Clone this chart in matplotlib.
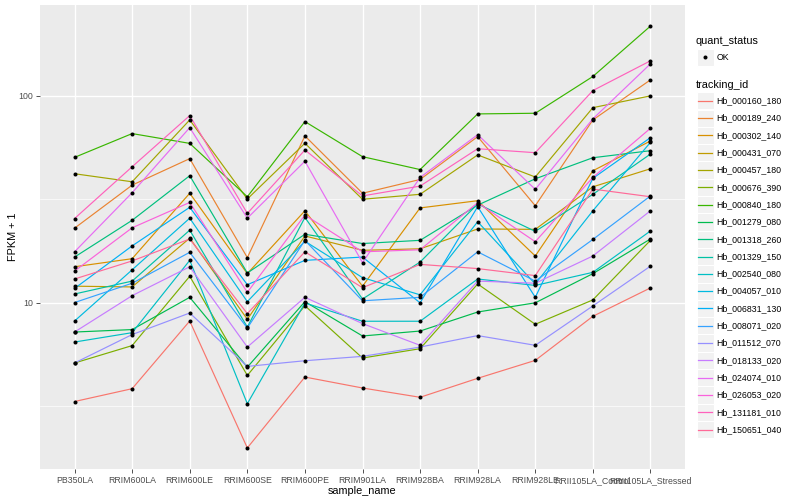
import matplotlib
matplotlib.use("Agg")
import matplotlib.pyplot as plt
import numpy as np
from matplotlib.patches import Rectangle

plt.rcParams["font.family"] = ["Liberation Sans", "DejaVu Sans"]

samples = ["PB350LA", "RRIM600LA", "RRIM600LE", "RRIM600SE", "RRIM600PE",
           "RRIM901LA", "RRIM928BA", "RRIM928LA", "RRIM928LE",
           "RRII105LA_Control", "RRII105LA_Stressed"]

tracking_ids = ["Hb_000160_180", "Hb_000189_240", "Hb_000302_140", "Hb_000431_070",
                "Hb_000457_180", "Hb_000676_390", "Hb_000840_180", "Hb_001279_080",
                "Hb_001318_260", "Hb_001329_150", "Hb_002540_080", "Hb_004057_010",
                "Hb_006831_130", "Hb_008071_020", "Hb_011512_070", "Hb_018133_020",
                "Hb_024074_010", "Hb_026053_020", "Hb_131181_010", "Hb_150651_040"]

# FPKM + 1, one list per gene, in sample order
hb_000160_180 = [3.32, 3.83, 8.14, 1.98, 4.36, 3.86, 3.48, 4.30, 5.25, 8.58, 11.77]
hb_000189_240 = [22.9, 37.0, 49.7, 16.5, 64.0, 33.8, 39.4, 63.5, 29.4, 76.5, 119.5]
hb_000302_140 = [14.9, 16.3, 33.8, 13.8, 27.8, 12.0, 28.7, 31.1, 16.8, 43.4, 60.5]
hb_000431_070 = [12.0, 11.9, 20.5, 8.30, 21.0, 17.9, 18.2, 22.7, 22.6, 36.3, 44.4]
hb_000457_180 = [42.0, 38.4, 76.5, 31.7, 59.0, 31.6, 33.4, 51.8, 40.5, 87.7, 100.0]
hb_000676_390 = [5.10, 6.19, 13.4, 4.44, 9.65, 5.39, 5.98, 12.3, 7.85, 10.3, 20.0]
hb_000840_180 = [50.4, 65.7, 58.9, 32.5, 75.1, 50.8, 44.0, 81.8, 82.4, 124.1, 217.6]
hb_001279_080 = [7.20, 7.40, 10.6, 4.87, 10.1, 6.89, 7.28, 9.00, 9.97, 13.8, 20.3]
hb_001318_260 = [16.6, 25.0, 41.1, 13.9, 21.4, 19.3, 20.0, 29.6, 39.7, 50.2, 54.3]
hb_001329_150 = [11.0, 12.7, 22.4, 7.61, 25.8, 10.4, 15.7, 30.0, 22.1, 33.4, 52.3]
hb_002540_080 = [6.44, 7.15, 16.0, 3.24, 9.95, 8.12, 8.12, 13.0, 12.1, 14.0, 22.2]
hb_004057_010 = [8.14, 14.4, 25.6, 10.1, 19.8, 13.2, 10.9, 24.6, 12.3, 27.8, 59.6]
hb_006831_130 = [11.7, 18.8, 28.9, 12.2, 16.0, 16.6, 9.97, 29.1, 10.6, 39.9, 62.8]
hb_008071_020 = [10.0, 12.4, 17.5, 7.53, 20.0, 10.2, 10.6, 17.6, 12.7, 20.2, 32.8]
hb_011512_070 = [5.10, 7.00, 8.90, 4.91, 5.23, 5.49, 6.09, 6.92, 6.21, 9.63, 15.0]
hb_018133_020 = [7.20, 10.8, 14.9, 6.09, 10.6, 7.91, 6.21, 12.7, 12.4, 16.8, 27.8]
hb_024074_010 = [17.6, 34.0, 70.2, 25.6, 48.3, 15.6, 40.3, 64.9, 35.3, 77.4, 142.9]
hb_026053_020 = [14.2, 23.0, 30.5, 11.2, 26.5, 17.6, 18.0, 30.4, 19.7, 40.3, 69.7]
hb_131181_010 = [25.5, 45.4, 80.3, 27.0, 54.7, 32.8, 36.6, 55.5, 53.1, 106.1, 147.8]
hb_150651_040 = [13.0, 15.9, 20.3, 8.84, 17.6, 11.8, 15.3, 14.6, 13.5, 35.4, 32.5]

series = [hb_000160_180, hb_000189_240, hb_000302_140, hb_000431_070, hb_000457_180,
          hb_000676_390, hb_000840_180, hb_001279_080, hb_001318_260, hb_001329_150,
          hb_002540_080, hb_004057_010, hb_006831_130, hb_008071_020, hb_011512_070,
          hb_018133_020, hb_024074_010, hb_026053_020, hb_131181_010, hb_150651_040]


def hcl_hex(h, c=100.0, l=65.0):
    # polar LUV -> sRGB, same as R's hcl()
    xn, yn, zn = 95.047, 100.0, 108.883
    un = 4 * xn / (xn + 15 * yn + 3 * zn)
    vn = 9 * yn / (xn + 15 * yn + 3 * zn)
    u = c * np.cos(np.radians(h))
    v = c * np.sin(np.radians(h))
    y = yn * ((l + 16) / 116) ** 3
    up = u / (13 * l) + un
    vp = v / (13 * l) + vn
    x = 9 * y * up / (4 * vp)
    z = y * (12 - 3 * up - 20 * vp) / (4 * vp)
    x, y, z = x / 100, y / 100, z / 100
    r = 3.240479 * x - 1.537150 * y - 0.498535 * z
    g = -0.969256 * x + 1.875992 * y + 0.041556 * z
    b = 0.055648 * x - 0.204043 * y + 1.057311 * z
    out = []
    for t in (r, g, b):
        t = 12.92 * t if t <= 0.0031308 else 1.055 * t ** (1 / 2.4) - 0.055
        out.append(min(max(t, 0), 1))
    return out


n = len(tracking_ids)
hues = np.linspace(15, 375, n + 1)[:-1]
colors = [hcl_hex(h) for h in hues]

fig = plt.figure(figsize=(8, 5), dpi=100)
ax = fig.add_axes([40 / 800, 1 - 469 / 500, 645 / 800, 464 / 500])
ax.set_facecolor("#EBEBEB")
for s in ax.spines.values():
    s.set_visible(False)

x = np.arange(1, len(samples) + 1)
for vals, col in zip(series, colors):
    ax.plot(x, vals, color=col, lw=0.85, zorder=3)
for vals in series:
    ax.plot(x, vals, "o", color="black", ms=2.9, zorder=4, mec="none")

ax.set_yscale("log")
lo = np.log10(min(min(v) for v in series))
hi = np.log10(max(max(v) for v in series))
pad = (hi - lo) * 0.05
ax.set_ylim(10 ** (lo - pad), 10 ** (hi + pad))
ax.set_xlim(0.4, len(samples) + 0.6)

ax.set_yticks([10, 100])
ax.set_yticklabels(["10", "100"])
ax.set_yticks([10 ** 0.5, 10 ** 1.5], minor=True)
ax.set_yticklabels([], minor=True)
ax.set_xticks(x)
ax.set_xticklabels(samples)
ax.tick_params(axis="both", which="major", length=3, width=0.6, color="#333333",
               labelcolor="#4D4D4D", labelsize=6.3, pad=2)
ax.tick_params(axis="y", which="minor", length=0)
ax.grid(True, which="major", color="white", lw=1.0, zorder=0)
ax.grid(True, which="minor", axis="y", color="white", lw=0.5, zorder=0)
ax.set_axisbelow(True)

ax.set_xlabel("sample_name", fontsize=7.8, labelpad=0.5)
ax.set_ylabel("FPKM + 1", fontsize=7.8, labelpad=0.5)

# legend, drawn in pixel space
lg = fig.add_axes([0, 0, 1, 1], zorder=5)
lg.set_xlim(0, 800)
lg.set_ylim(500, 0)
lg.axis("off")
lg.patch.set_alpha(0)

kx, kw = 696.5, 17.3
lg.text(696, 41, "quant_status", fontsize=7.8, va="center", ha="left", color="black")
lg.add_patch(Rectangle((kx, 48.5), kw, kw, facecolor="#F2F2F2", edgecolor="white", lw=0.8))
lg.plot(kx + kw / 2, 48.5 + kw / 2, "o", color="black", ms=2.9, mec="none")
lg.text(716.5, 48.5 + kw / 2, "OK", fontsize=6.3, va="center", ha="left")

lg.text(696, 85, "tracking_id", fontsize=7.8, va="center", ha="left", color="black")
y0 = 92.2
for i, (tid, col) in enumerate(zip(tracking_ids, colors)):
    yy = y0 + i * kw
    lg.add_patch(Rectangle((kx, yy), kw, kw, facecolor="#F2F2F2", edgecolor="white", lw=0.8))
    lg.plot([kx + 1.5, kx + kw - 1.5], [yy + kw / 2] * 2, color=col, lw=0.9)
    lg.text(716.5, yy + kw / 2, tid, fontsize=6.3, va="center", ha="left")

fig.savefig("out.png", dpi=100)
